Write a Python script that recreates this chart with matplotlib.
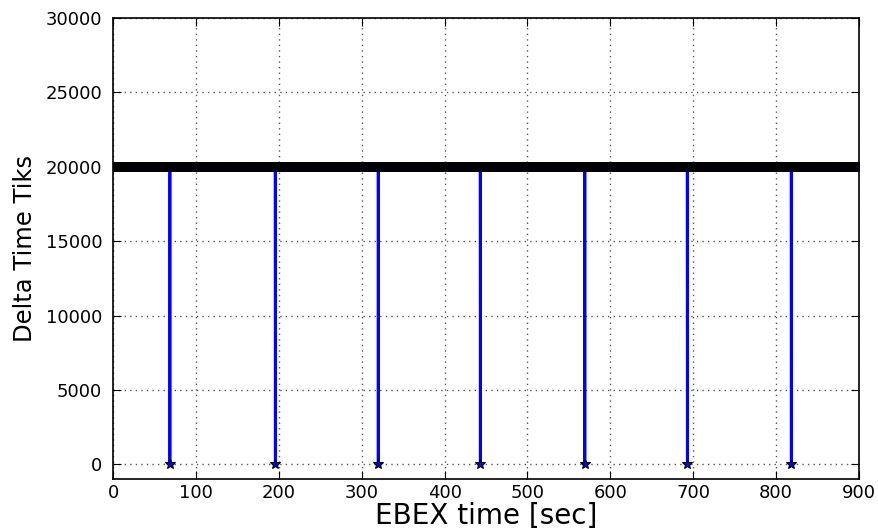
import numpy as np
import matplotlib
matplotlib.use('Agg')
import matplotlib.pyplot as plt

# tick counter sampled along EBEX time; it drops to 0 at the sync events
t_start, t_stop, t_step = 0.0, 900.0, 0.25
nominal_ticks = 20000
drop_times = [68.3, 195.6, 319.7, 443.0, 569.2, 693.1, 818.6]

t = np.arange(t_start, t_stop + t_step, t_step)
dticks = np.full(t.shape, nominal_ticks, dtype=float)
for dt_ in drop_times:
    dticks[np.argmin(np.abs(t - dt_))] = 0

fig = plt.figure(figsize=(8.79, 5.29), dpi=100)
ax = fig.add_axes([0.129, 0.094, 0.848, 0.872])

ax.plot(t, dticks, color='blue', lw=2, marker='*', ms=7,
        mfc='blue', mec='black', mew=0.8)

ax.set_xlim(0, 900)
ax.set_ylim(-1000, 30000)
ax.set_xticks(np.arange(0, 901, 100))
ax.set_yticks(np.arange(0, 30001, 5000))
ax.grid(True, color='0.35', linestyle=(0, (1, 3)), linewidth=1)
ax.tick_params(direction='in', top=True, right=True, labelsize=13, length=6)
ax.tick_params(axis='y', pad=8)
for s in ax.spines.values():
    s.set_linewidth(1.2)

ax.set_xlabel('EBEX time [sec]', fontsize=20, labelpad=0)
ax.set_ylabel('Delta Time Tiks', fontsize=17.5)
ax.yaxis.set_label_coords(-0.103, 0.5)

fig.savefig('out.png', dpi=100)
